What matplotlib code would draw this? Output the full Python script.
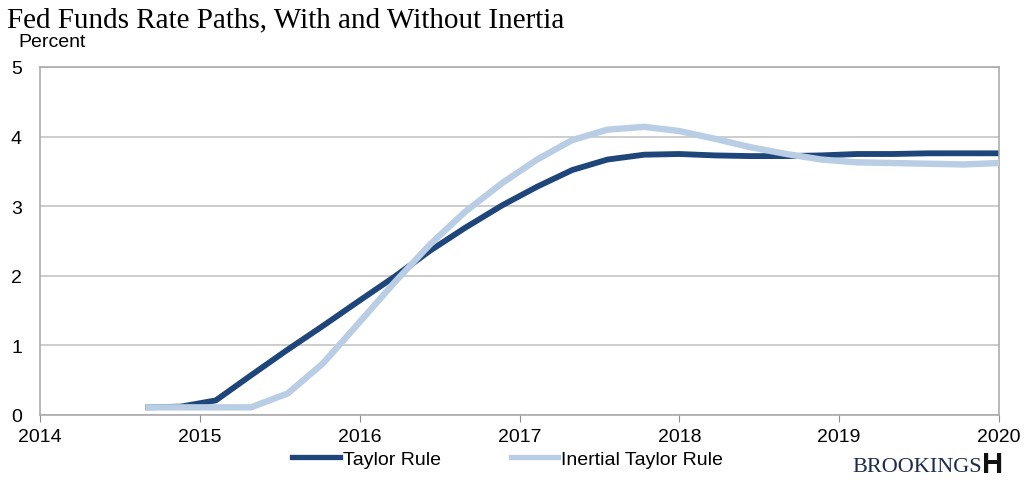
import matplotlib
matplotlib.use("Agg")
import matplotlib.pyplot as plt
from matplotlib.lines import Line2D

# quarter positions on the date axis
dates = [2014.66, 2014.88, 2015.10, 2015.32, 2015.55, 2015.77, 2015.99,
         2016.22, 2016.44, 2016.66, 2016.89, 2017.11, 2017.33, 2017.55,
         2017.78, 2018.00, 2018.22, 2018.44, 2018.67, 2018.89, 2019.11,
         2019.34, 2019.56, 2019.78, 2020.00]

taylor = [0.11, 0.12, 0.21, 0.57, 0.94, 1.28, 1.63, 1.99, 2.36, 2.69,
          3.01, 3.28, 3.52, 3.67, 3.74, 3.75, 3.73, 3.72, 3.72, 3.73,
          3.75, 3.75, 3.76, 3.76, 3.76]

inertial = [0.11, 0.11, 0.11, 0.11, 0.31, 0.74, 1.31, 1.91, 2.45, 2.92,
            3.33, 3.67, 3.95, 4.10, 4.14, 4.08, 3.97, 3.85, 3.75, 3.67,
            3.63, 3.62, 3.61, 3.60, 3.62]

years = [2014, 2015, 2016, 2017, 2018, 2019, 2020]
yticks = [0, 1, 2, 3, 4, 5]

dark = "#1E467A"
light = "#B9CDE5"
sans = ["Liberation Sans", "DejaVu Sans"]
serif = ["Liberation Serif", "DejaVu Serif"]
fs = 14

fig = plt.figure(figsize=(10.3, 4.81), dpi=100)
ax = fig.add_axes([40 / 1030, 1 - 416 / 481, (999 - 40) / 1030, (416 - 68) / 481])

# light series sits on top of the dark one in the original
ax.plot(dates, taylor, color=dark, lw=4.2, solid_capstyle="butt", solid_joinstyle="round", zorder=2)
ax.plot(dates, inertial, color=light, lw=4.6, solid_capstyle="butt", solid_joinstyle="round", zorder=3)

ax.set_xlim(2014, 2020)
ax.set_ylim(0, 5)
ax.set_xticks(years)
ax.set_yticks(yticks)
ax.set_xticklabels([str(y) for y in years], family=sans, fontsize=fs)
ax.set_yticklabels([str(v) for v in yticks], family=sans, fontsize=fs)
ax.yaxis.grid(True, color="#C0C0C0", lw=1.1)
ax.set_axisbelow(True)
ax.tick_params(axis="y", length=0, pad=13)
ax.tick_params(axis="x", length=5, color="#909090", pad=4, direction="out")
for s in ax.spines.values():
    s.set_color("#A6A6A6")
    s.set_linewidth(1.1)

fig.text(7 / 1030, 1 - 27 / 481, "Fed Funds Rate Paths, With and Without Inertia",
         family=serif, fontsize=21, va="baseline")
fig.text(18 / 1030, 1 - 47 / 481, "Percent", family=sans, fontsize=fs, va="baseline")

handles = [Line2D([], [], color=dark, lw=3.8), Line2D([], [], color=light, lw=3.8)]
fig.legend(handles, ["Taylor Rule", "Inertial Taylor Rule"], loc="center left",
           bbox_to_anchor=(292 / 1030, 1 - 460 / 481), ncol=2, frameon=False,
           prop={"family": sans, "size": fs}, handlelength=2.45, handletextpad=0.15,
           columnspacing=3.6, borderpad=0, borderaxespad=0)

# Brookings mark
fig.text(852 / 1030, 1 - 472 / 481, "BROOKINGS", family=serif,
         fontsize=16, color="#1C2B4B", va="baseline")
fig.text(982 / 1030, 1 - 473 / 481, "H", family=sans,
         fontsize=21, weight="bold", color="#111111", va="baseline")

fig.savefig("out.png", dpi=100)
